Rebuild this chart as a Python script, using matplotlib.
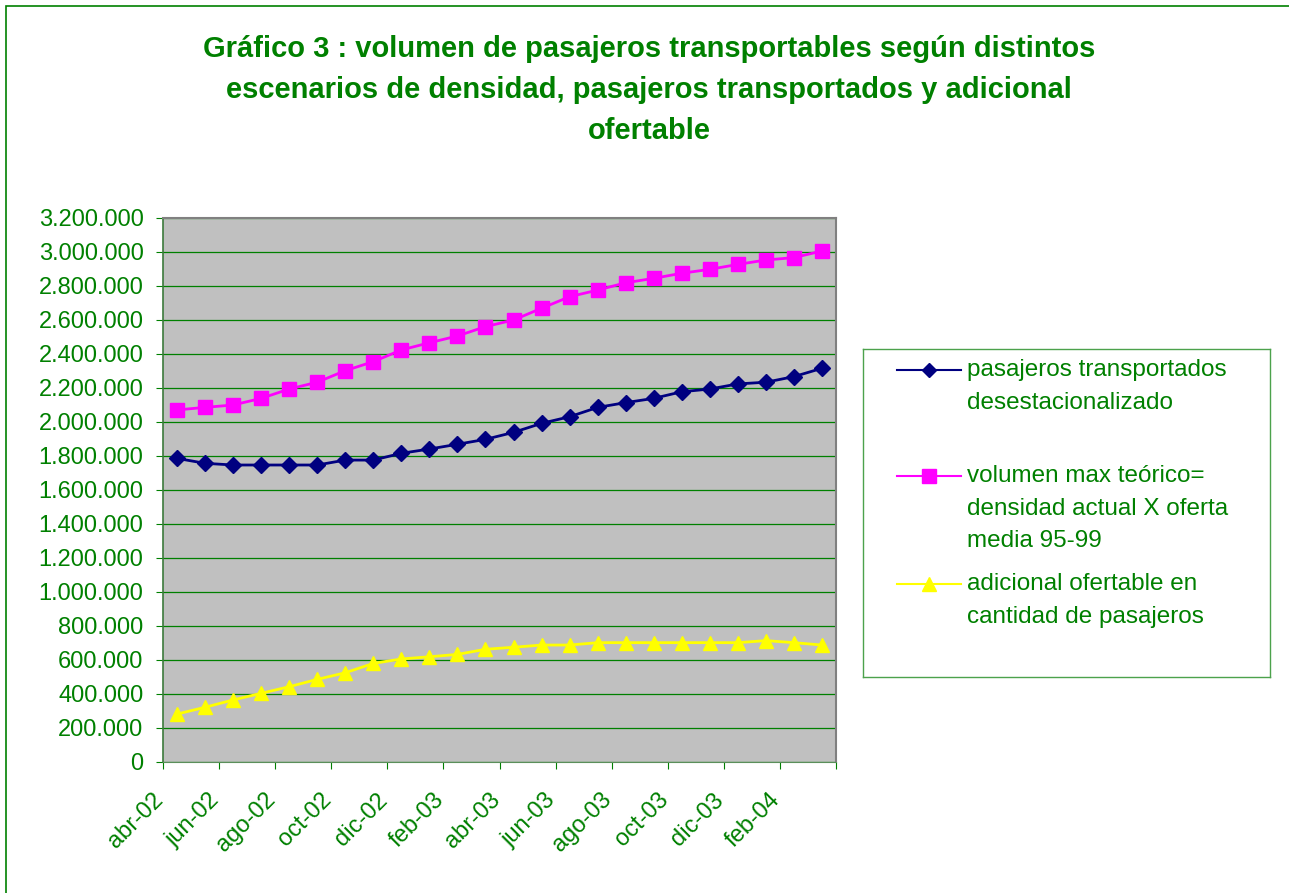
import numpy as np
import matplotlib
matplotlib.use("Agg")
import matplotlib.pyplot as plt
import matplotlib.patches as patches
from matplotlib.ticker import FuncFormatter
from matplotlib.transforms import ScaledTranslation

plt.rcParams['font.family'] = ['Liberation Sans', 'DejaVu Sans']

# meses abr-02 .. mar-04
meses = ['abr-02', 'may-02', 'jun-02', 'jul-02', 'ago-02', 'sep-02', 'oct-02', 'nov-02',
         'dic-02', 'ene-03', 'feb-03', 'mar-03', 'abr-03', 'may-03', 'jun-03', 'jul-03',
         'ago-03', 'sep-03', 'oct-03', 'nov-03', 'dic-03', 'ene-04', 'feb-04', 'mar-04']

transportados = [1786000, 1757000, 1747000, 1747000, 1747000, 1747000, 1776000, 1776000,
                 1816000, 1841000, 1869000, 1898000, 1939000, 1992000, 2031000, 2086000,
                 2114000, 2139000, 2178000, 2194000, 2224000, 2234000, 2267000, 2316000]

vol_max = [2071000, 2086000, 2100000, 2139000, 2194000, 2234000, 2302000, 2355000,
           2424000, 2466000, 2506000, 2561000, 2600000, 2669000, 2737000, 2776000,
           2819000, 2845000, 2875000, 2898000, 2927000, 2953000, 2967000, 3006000]

adicional = [282000, 322000, 365000, 404000, 443000, 486000, 525000, 580000,
             606000, 619000, 633000, 663000, 675000, 688000, 688000, 702000,
             702000, 702000, 702000, 702000, 702000, 714000, 702000, 688000]

etiquetas = ['pasajeros transportados\ndesestacionalizado',
             'volumen max teórico=\ndensidad actual X oferta\nmedia 95-99',
             'adicional ofertable en\ncantidad de pasajeros']

verde = '#008000'
W, H = 1289, 893
fig = plt.figure(figsize=(W / 100, H / 100), dpi=100)
fig.patch.set_facecolor('white')

# borde exterior
borde = patches.Rectangle((6 / W, -0.1), 1.2, 1 - 6 / H + 0.1, transform=fig.transFigure,
                          fill=False, edgecolor=verde, linewidth=1.2)
fig.add_artist(borde)

ax = fig.add_axes([163 / W, (H - 762) / H, (836 - 163) / W, (762 - 218) / H])
ax.set_facecolor('#C0C0C0')
x = np.arange(len(meses))

ax.plot(x, transportados, color='#000080', lw=2, marker='D', ms=8, mec='#000080', zorder=3)
ax.plot(x, vol_max, color='#FF00FF', lw=2, marker='s', ms=10.5, mec='#FF00FF', zorder=3)
ax.plot(x, adicional, color='#FFFF00', lw=2, marker='^', ms=10.5, mec='#FFFF00', zorder=3)

ax.set_ylim(0, 3200000)
ax.set_yticks(np.arange(0, 3200001, 200000))
ax.yaxis.set_major_formatter(FuncFormatter(lambda v, p: f'{int(v):,}'.replace(',', '.')))
ax.grid(axis='y', color=verde, lw=0.9)
ax.set_axisbelow(True)

ax.set_xlim(-0.5, len(meses) - 0.5)
ax.set_xticks(np.arange(-0.5, len(meses), 2))
ax.set_xticklabels([])
ax.set_xticks(x[::2], minor=True)
ax.set_xticklabels(meses[::2], minor=True, rotation=45, ha='right', va='center',
                   rotation_mode='anchor')
ax.tick_params(axis='x', which='minor', length=0, pad=25, labelsize=17, labelcolor=verde)
ax.tick_params(axis='x', which='major', length=5, color=verde, direction='out')
ax.tick_params(axis='y', length=5, color=verde, labelsize=17, labelcolor=verde, pad=9)
for lab in ax.get_xticklabels(minor=True):
    lab.set_transform(lab.get_transform() + ScaledTranslation(-0.17, 0, fig.dpi_scale_trans))

ax.spines['left'].set_color('#3C7A3C')
ax.spines['bottom'].set_color('#5A8F5A')
ax.spines['top'].set_color('#808080')
ax.spines['right'].set_color('#808080')
ax.spines['top'].set_linewidth(1.5)
ax.spines['right'].set_linewidth(1.5)
ax.spines['left'].set_linewidth(1.2)

fig.text(649 / W, 1 - 35 / H,
         'Gráfico 3 : volumen de pasajeros transportables según distintos\n'
         'escenarios de densidad, pasajeros transportados y adicional\nofertable',
         ha='center', va='top', fontsize=21, fontweight='bold', color=verde, linespacing=1.6)

# leyenda
lg = fig.add_axes([863 / W, (H - 677) / H, (1270 - 863) / W, (677 - 349) / H])
lg.set_xlim(0, 407)
lg.set_ylim(328, 0)
lg.set_xticks([])
lg.set_yticks([])
for s in lg.spines.values():
    s.set_color('#4CA24C')
    s.set_linewidth(1)
estilos = [('#000080', 'D', 7), ('#FF00FF', 's', 10), ('#FFFF00', '^', 10.5)]
filas = [21, 127, 235]
for (c, m, ms), yy, txt in zip(estilos, filas, etiquetas):
    lg.plot([34, 98], [yy, yy], color=c, lw=1.5)
    lg.plot([66], [yy], color=c, marker=m, ms=ms, mec=c)
    lg.text(104, yy - 11, txt, ha='left', va='top', fontsize=17.5, color=verde, linespacing=1.62)

fig.savefig('out.png', dpi=100)
